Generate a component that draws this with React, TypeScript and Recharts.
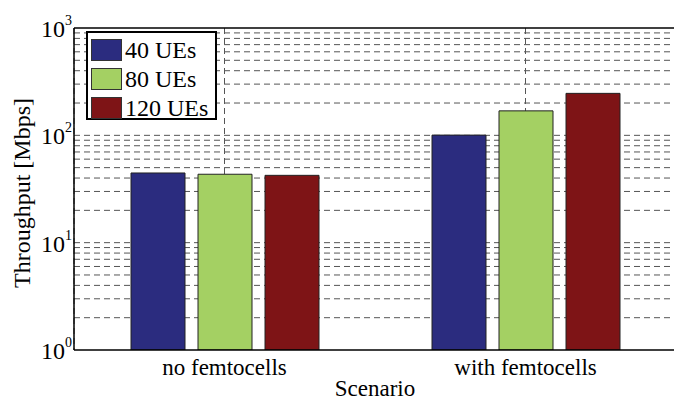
import React from 'react';
import { BarChart, Bar, XAxis, YAxis, CartesianGrid, Legend, ReferenceLine } from 'recharts';

const categories = ['no femtocells', 'with femtocells'];
const ue40 = [44.6, 100.5];
const ue80 = [43.4, 169];
const ue120 = [42.4, 246];
const yTicks = [1, 10, 100, 1000];
const gridValues = [2, 3, 4, 5, 6, 7, 8, 9, 10, 20, 30, 40, 50, 60, 70, 80, 90, 100, 200, 300, 400, 500, 600, 700, 800, 900];
const seriesNames = ['40 UEs', '80 UEs', '120 UEs'];
const colors = ['#2B2C7F', '#A4D063', '#7E1416'];

const data = categories.map((name, i) => ({ name, a: ue40[i], b: ue80[i], c: ue120[i] }));

const FONT = 'Liberation Serif, Times New Roman, serif';

const YTick = (props: any) => {
  const { x, y, payload } = props;
  const exp = Math.round(Math.log10(payload.value));
  return (
    <text x={x} y={y + 9} textAnchor="end" fontFamily={FONT} fontSize={24} fill="#000">
      <tspan>10</tspan>
      <tspan dy={-12} fontSize={14}>{exp}</tspan>
    </text>
  );
};

const XTick = (props: any) => {
  const { x, y, payload } = props;
  return (
    <text x={x} y={y + 25} textAnchor="middle" fontFamily={FONT} fontSize={23} fill="#000">
      {payload.value}
    </text>
  );
};

const LegendBox = () => (
  <div style={{ border: '2px solid #000', background: '#fff', padding: '3px 0 2px 3px', boxSizing: 'border-box', width: 131, height: 89 }}>
    {seriesNames.map((n, i) => (
      <div key={i} style={{ display: 'flex', alignItems: 'center', height: 28.7, whiteSpace: 'nowrap' }}>
        <div style={{ width: 31, height: 22, flex: '0 0 31px', background: colors[i], border: '1px solid #333', boxSizing: 'border-box', marginRight: 3 }} />
        <span style={{ fontFamily: FONT, fontSize: 24, color: '#000', lineHeight: '22px', whiteSpace: 'nowrap' }}>{n}</span>
      </div>
    ))}
  </div>
);

const gridCoords = (props: any) => {
  const { yAxis, offset } = props;
  if (yAxis && typeof yAxis.scale === 'function') {
    return gridValues.map((v) => yAxis.scale(v));
  }
  return gridValues.map((v) => offset.top + offset.height * (1 - Math.log10(v) / 3));
};

export default function App() {
  return (
    <div style={{ position: 'absolute', left: 0, top: 0, width: 674, height: 400, overflow: 'hidden', background: '#fff' }}>
      <BarChart width={680} height={400} data={data} margin={{ top: 28, right: 4, bottom: 0, left: 0 }} barSize={54} barGap={13}>
        <CartesianGrid strokeDasharray="6 4" stroke="#555" horizontalCoordinatesGenerator={gridCoords} />
        <XAxis
          dataKey="name"
          height={50}
          tick={<XTick />}
          tickLine={false}
          tickSize={0}
          tickMargin={0}
          axisLine={{ stroke: '#000', strokeWidth: 1.5 }}
          label={{
            content: (p: any) => {
              const vb = p.viewBox;
              return (
                <text x={vb.x + vb.width / 2} y={396} textAnchor="middle" fontFamily={FONT} fontSize={23} fill="#000">
                  Scenario
                </text>
              );
            },
          }}
        />
        <YAxis
          width={74}
          scale="log"
          domain={[1, 1000]}
          ticks={yTicks}
          allowDataOverflow
          tick={<YTick />}
          tickLine={false}
          tickSize={0}
          tickMargin={2}
          axisLine={{ stroke: '#000', strokeWidth: 1.5 }}
          label={{
            content: (p: any) => {
              const vb = p.viewBox;
              const cy = vb.y + vb.height / 2 + 4;
              return (
                <text x={30} y={cy} transform={`rotate(-90, 30, ${cy})`} textAnchor="middle" fontFamily={FONT} fontSize={24} fill="#000">
                  Throughput [Mbps]
                </text>
              );
            },
          }}
        />
        <ReferenceLine y={1000} stroke="#000" strokeWidth={1.5} />
        <Legend
          layout="horizontal"
          verticalAlign="middle"
          align="center"
          content={<LegendBox />}
          wrapperStyle={{ position: 'absolute', left: 86, top: 31, width: 131, height: 89 }}
        />
        <Bar dataKey="a" name={seriesNames[0]} fill={colors[0]} stroke="#222" strokeWidth={1} isAnimationActive={false} />
        <Bar dataKey="b" name={seriesNames[1]} fill={colors[1]} stroke="#222" strokeWidth={1} isAnimationActive={false} />
        <Bar dataKey="c" name={seriesNames[2]} fill={colors[2]} stroke="#222" strokeWidth={1} isAnimationActive={false} />
      </BarChart>
    </div>
  );
}
